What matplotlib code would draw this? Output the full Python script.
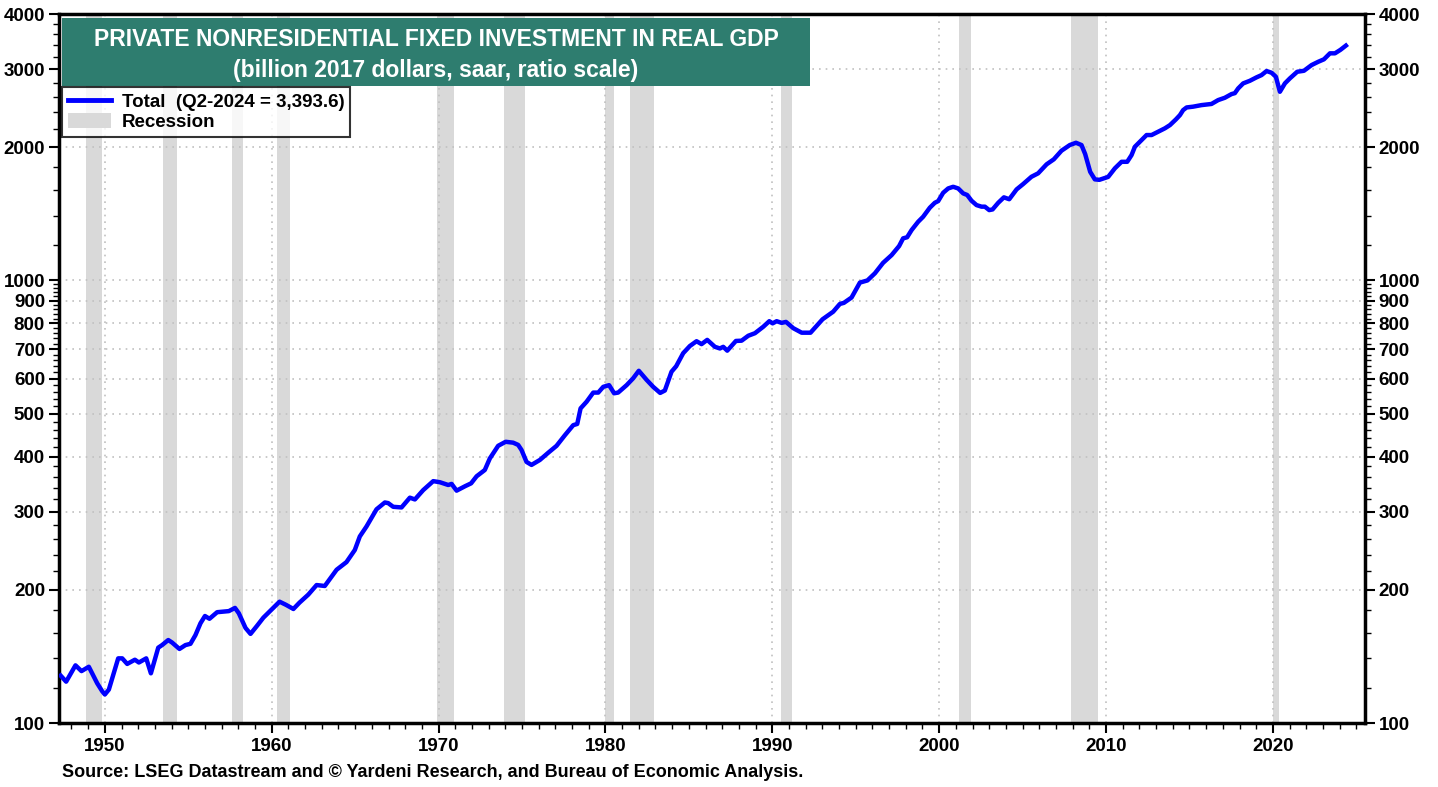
import matplotlib
matplotlib.use("Agg")
import matplotlib.pyplot as plt
import matplotlib.ticker as mticker
from matplotlib.patches import Rectangle, Patch
from matplotlib.lines import Line2D

plt.rcParams['font.family'] = ['Liberation Sans', 'DejaVu Sans']
plt.rcParams['font.weight'] = 'bold'

# (year, billion 2017 dollars)
years = [1947.35, 1947.68, 1948.24, 1948.6, 1949.04, 1949.54, 1949.84, 1950.0, 1950.24,
         1950.8, 1951.04, 1951.34, 1951.8, 1952.04, 1952.48, 1952.76, 1953.2, 1953.43,
         1953.8, 1954.03, 1954.47, 1954.83, 1955.13, 1955.43, 1955.73, 1956.0, 1956.27,
         1956.73, 1957.43, 1957.8, 1958.03, 1958.43, 1958.73, 1959.13, 1959.5, 1959.9,
         1960.47, 1960.85, 1961.3, 1961.66, 1962.19, 1962.69, 1963.18, 1963.89, 1964.48,
         1964.98, 1965.28, 1965.68, 1966.28, 1966.78, 1966.98, 1967.28, 1967.78, 1968.28,
         1968.58, 1969.08, 1969.68, 1970.08, 1970.58, 1970.78, 1971.08, 1971.6, 1971.95,
         1972.28, 1972.77, 1973.07, 1973.57, 1974.02, 1974.47, 1974.77, 1974.97, 1975.27,
         1975.57, 1976.07, 1976.57, 1977.07, 1977.57, 1978.07, 1978.31, 1978.51, 1978.87,
         1979.27, 1979.57, 1979.87, 1980.22, 1980.52, 1980.76, 1981.27, 1981.66, 1982.0,
         1982.47, 1982.86, 1983.28, 1983.56, 1983.96, 1984.24, 1984.66, 1985.06, 1985.46,
         1985.76, 1986.1, 1986.56, 1986.86, 1987.06, 1987.3, 1987.82, 1988.16, 1988.56,
         1988.96, 1989.46, 1989.82, 1990.02, 1990.26, 1990.56, 1990.82, 1991.26, 1991.76,
         1992.29, 1992.65, 1993.01, 1993.65, 1994.05, 1994.29, 1994.75, 1995.25, 1995.7,
         1996.15, 1996.64, 1997.15, 1997.6, 1997.84, 1998.08, 1998.35, 1998.74, 1999.04,
         1999.44, 1999.74, 1999.94, 2000.24, 2000.54, 2000.84, 2001.14, 2001.44, 2001.68,
         2001.94, 2002.24, 2002.54, 2002.74, 2003.0, 2003.2, 2003.54, 2003.88, 2004.2,
         2004.64, 2005.03, 2005.53, 2005.93, 2006.44, 2006.87, 2007.33, 2007.83, 2008.2,
         2008.53, 2008.75, 2009.05, 2009.33, 2009.6, 2010.13, 2010.53, 2010.93, 2011.27,
         2011.53, 2011.73, 2012.13, 2012.43, 2012.73, 2013.13, 2013.53, 2013.83, 2014.19,
         2014.43, 2014.62, 2014.83, 2015.22, 2015.72, 2016.32, 2016.72, 2017.12, 2017.52,
         2017.72, 2017.92, 2018.22, 2018.62, 2019.02, 2019.32, 2019.62, 2019.92, 2020.18,
         2020.42, 2020.72, 2021.02, 2021.46, 2021.86, 2022.32, 2022.72, 2023.06, 2023.42,
         2023.72, 2024.05, 2024.375]
total = [128, 124, 135, 131, 134, 123, 118, 116, 119,
         140, 140, 136, 139, 137, 140, 129.5, 148, 150,
         154, 152, 147, 150, 151, 158, 168, 174.5, 172,
         178, 179, 182, 177, 164, 159, 166, 173, 179,
         188, 185, 181, 187, 195, 205, 204, 222, 231,
         246, 264, 278, 304, 315, 314, 308, 307, 323,
         320, 336, 352, 350, 345, 347, 335, 343, 348,
         361, 373, 396, 423, 432, 430, 425, 414, 389,
         383, 393, 408, 423, 447, 471, 474, 514, 532,
         558, 558, 575, 580, 556, 558, 580, 601, 625,
         596, 575, 557, 564, 622, 640, 685, 711, 729,
         718, 734, 708, 702, 708, 694, 730, 731, 750,
         760, 786, 809, 800, 809, 802, 806, 780, 762,
         762, 789, 817, 850, 885, 890, 915, 989, 1000,
         1038, 1096, 1141, 1196, 1245, 1252, 1300, 1357, 1393,
         1460, 1498, 1511, 1578, 1614, 1628, 1614, 1573, 1560,
         1514, 1480, 1468, 1468, 1442, 1447, 1498, 1541, 1526,
         1606, 1651, 1715, 1746, 1830, 1878, 1964, 2023, 2047,
         2023, 1930, 1760, 1692, 1688, 1714, 1792, 1854, 1854,
         1920, 2005, 2076, 2131, 2131, 2168, 2207, 2244, 2312,
         2364, 2426, 2460, 2470, 2490, 2505, 2556, 2587, 2637,
         2650, 2716, 2788, 2826, 2877, 2911, 2973, 2947, 2886,
         2669, 2788, 2862, 2962, 2977, 3067, 3120, 3160, 3260,
         3260, 3320, 3393.6]

rec_start = [1948.9, 1953.5, 1957.6, 1960.3, 1969.9, 1973.9, 1980.0, 1981.5, 1990.5, 2001.2, 2007.9, 2020.0]
rec_end = [1949.8, 1954.3, 1958.3, 1961.1, 1970.9, 1975.2, 1980.5, 1982.9, 1991.2, 2001.9, 2009.5, 2020.35]

major_y = [100, 200, 300, 400, 500, 600, 700, 800, 900, 1000, 2000, 3000, 4000]

fig = plt.figure(figsize=(14.38, 7.87), dpi=100)
ax = fig.add_axes([0.041, 0.0813, 0.908, 0.9009])

for s, e in zip(rec_start, rec_end):
    ax.axvspan(s, e, color='#d9d9d9', lw=0, zorder=1)

ax.plot(years, total, color='#0000ff', lw=3.2, zorder=3, solid_joinstyle='round')

ax.set_yscale('log')
ax.set_ylim(100, 4000)
ax.set_xlim(1947.25, 2025.5)

ax.yaxis.set_major_locator(mticker.FixedLocator(major_y))
ax.yaxis.set_major_formatter(mticker.FixedFormatter([str(v) for v in major_y]))
minor_y = [v for v in range(120, 1000, 20) if v % 100 != 0] + [v for v in range(1200, 4000, 200) if v % 1000 != 0]
ax.yaxis.set_minor_locator(mticker.FixedLocator(minor_y))
ax.yaxis.set_minor_formatter(mticker.NullFormatter())

ax.xaxis.set_major_locator(mticker.MultipleLocator(10))
ax.xaxis.set_minor_locator(mticker.MultipleLocator(1))
ax.xaxis.set_major_formatter(mticker.FormatStrFormatter('%d'))

ax.tick_params(axis='y', which='both', left=True, right=True, labelleft=True, labelright=True)
ax.tick_params(which='major', length=7, width=1.5, labelsize=13.5, direction='out')
ax.tick_params(which='minor', length=4, width=1, direction='out')
ax.tick_params(axis='y', which='major', pad=3)

ax.grid(True, which='major', color='#c0c0c0', linestyle=(0, (1, 3)), lw=1.2, zorder=2)

for sp in ax.spines.values():
    sp.set_linewidth(2.5)

# title box
ax.add_patch(Rectangle((0.0023, 0.898), 0.573, 0.096, transform=ax.transAxes,
                       facecolor='#2e7d6f', edgecolor='none', zorder=5))
ax.text(0.2888, 0.964, 'PRIVATE NONRESIDENTIAL FIXED INVESTMENT IN REAL GDP', transform=ax.transAxes,
        ha='center', va='center', color='white', fontsize=16.5, fontweight='bold', zorder=6)
ax.text(0.2888, 0.921, '(billion 2017 dollars, saar, ratio scale)', transform=ax.transAxes,
        ha='center', va='center', color='white', fontsize=16.5, fontweight='bold', zorder=6)

handles = [Line2D([0], [0], color='#0000ff', lw=3.5),
           Patch(facecolor='#d9d9d9', edgecolor='none')]
leg = ax.legend(handles, ['Total  (Q2-2024 = 3,393.6)', 'Recession'], loc='upper left',
                bbox_to_anchor=(0.0023, 0.897), frameon=True, fancybox=False,
                prop={'size': 13.5, 'weight': 'bold'}, handlelength=2.3, handleheight=0.9,
                labelspacing=0.1, borderpad=0.3, handletextpad=0.6, borderaxespad=0)
leg.get_frame().set_edgecolor('black')
leg.get_frame().set_linewidth(1.5)
leg.set_zorder(6)

fig.text(0.043, 0.007, 'Source: LSEG Datastream and \u00a9 Yardeni Research, and Bureau of Economic Analysis.',
         fontsize=13, fontweight='bold', ha='left', va='bottom')

fig.savefig('out.png', dpi=100)
